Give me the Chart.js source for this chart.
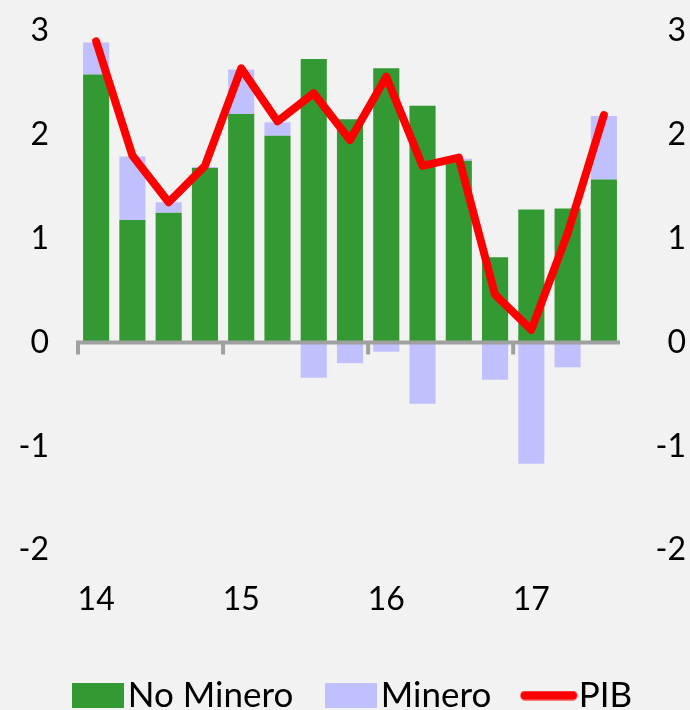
<!DOCTYPE html>
<html>
<head>
<meta charset="utf-8">
<title>PIB: No Minero / Minero</title>
<script src="https://cdn.jsdelivr.net/npm/chart.js@4.4.1/dist/chart.umd.min.js"></script>
<style>
  html, body { margin: 0; padding: 0; background: #f2f2f2; }
  #wrap { width: 690px; height: 710px; }
</style>
</head>
<body>
<div id="wrap"><canvas id="chart" width="690" height="710"></canvas></div>
<script>
// ── Data ─────────────────────────────────────────────────────────
const quarters = ['14-I', '14-II', '14-III', '14-IV',
                  '15-I', '15-II', '15-III', '15-IV',
                  '16-I', '16-II', '16-III', '16-IV',
                  '17-I', '17-II', '17-III'];
const yearTicks = ['14', '15', '16', '17'];

const noMinero = [2.58, 1.18, 1.25, 1.68, 2.20, 1.99, 2.73, 2.15, 2.64, 2.28, 1.75, 0.82, 1.28, 1.29, 1.57];
const minero   = [0.31, 0.61, 0.10, 0.01, 0.43, 0.13, -0.34, -0.20, -0.09, -0.59, 0.02, -0.36, -1.17, -0.24, 0.61];
const pib      = [2.90, 1.80, 1.35, 1.70, 2.64, 2.13, 2.40, 1.95, 2.56, 1.70, 1.78, 0.46, 0.12, 1.05, 2.19];

const yMin = -2;
const yMax = 3;

// ── Styles ───────────────────────────────────────────────────────
const GREEN = '#339933';
const LILAC = '#c0c0ff';
const RED   = '#ff0000';
const AXIS  = '#a0a0a0';
const FONT  = 'Lato, "Open Sans", sans-serif';

// legend swatches drawn as small canvases so the gap to the text stays tight
function swatchRect(color) {
    const c = document.createElement('canvas');
    c.width = 52; c.height = 25;
    const g = c.getContext('2d');
    g.fillStyle = color;
    g.fillRect(0, 0, 52, 25);
    return c;
}
function swatchLine(color) {
    const c = document.createElement('canvas');
    c.width = 58; c.height = 10;
    const g = c.getContext('2d');
    g.strokeStyle = color;
    g.lineWidth = 9;
    g.lineCap = 'round';
    g.beginPath(); g.moveTo(5, 5); g.lineTo(53, 5); g.stroke();
    return c;
}
const swatches = [swatchRect(GREEN), swatchRect(LILAC), swatchLine(RED)];

// ── Plugins ──────────────────────────────────────────────────────
const background = {
    id: 'background',
    beforeDraw(chart) {
        const ctx = chart.ctx;
        ctx.save();
        ctx.fillStyle = '#f2f2f2';
        ctx.fillRect(0, 0, chart.width, chart.height);
        ctx.restore();
    }
};

// nudge the legend row a bit to the right, as in the original
const legendShift = {
    id: 'legendShift',
    afterLayout(chart) {
        chart.legend.left += 15.75;
        chart.legend.right += 15.75;
    }
};

// category axis drawn across y = 0, with tick marks at each year start
const zeroAxis = {
    id: 'zeroAxis',
    afterDatasetsDraw(chart) {
        const { ctx, chartArea, scales } = chart;
        const y0 = scales.y.getPixelForValue(0);
        const half = (scales.x.getPixelForValue(1) - scales.x.getPixelForValue(0)) / 2;
        ctx.save();
        ctx.strokeStyle = AXIS;
        ctx.lineWidth = 4;
        ctx.beginPath();
        ctx.moveTo(chartArea.left - 2, y0);
        ctx.lineTo(chartArea.right - 2, y0);
        ctx.stroke();
        ctx.beginPath();
        quarters.forEach((q, i) => {
            if (i % 4 !== 0) return;
            const x = scales.x.getPixelForValue(i) - half;
            ctx.moveTo(x, y0);
            ctx.lineTo(x, y0 + 12);
        });
        ctx.stroke();
        ctx.restore();
    }
};

// fixed width for the value axes; tick padding should not push the plot down
function fitValueAxis(width) {
    return s => {
        s.width = width;
        s.paddingTop = 0;
        s.paddingBottom = 0;
    };
}

// ── Chart ────────────────────────────────────────────────────────
const ctx = document.getElementById('chart').getContext('2d');

new Chart(ctx, {
    type: 'bar',
    data: {
        labels: quarters,
        datasets: [
            {
                label: 'No Minero',
                data: noMinero,
                backgroundColor: GREEN,
                stack: 'pib',
                order: 2
            },
            {
                label: 'Minero',
                data: minero,
                backgroundColor: LILAC,
                stack: 'pib',
                order: 2
            },
            {
                type: 'line',
                label: 'PIB',
                data: pib,
                borderColor: RED,
                backgroundColor: RED,
                borderWidth: 8,
                pointRadius: 0,
                tension: 0,
                borderJoinStyle: 'round',
                borderCapStyle: 'round',
                stack: 'line',
                order: 0
            }
        ]
    },
    options: {
        responsive: false,
        animation: false,
        devicePixelRatio: 1,
        barPercentage: 0.72,
        categoryPercentage: 1,
        layout: { padding: { top: 31, left: 0, right: 4, bottom: -13 } },
        plugins: {
            tooltip: { enabled: false },
            legend: {
                position: 'bottom',
                labels: {
                    usePointStyle: true,
                    pointStyleWidth: 25,
                    boxHeight: 35,
                    padding: 45,
                    color: '#000',
                    font: { family: FONT, size: 35 },
                    generateLabels: chart => chart.data.datasets.map((ds, i) => ({
                        text: ds.label,
                        datasetIndex: i,
                        pointStyle: swatches[i],
                        fillStyle: ds.backgroundColor,
                        strokeStyle: ds.backgroundColor,
                        lineWidth: 0,
                        hidden: false,
                        fontColor: '#000'
                    }))
                }
            }
        },
        scales: {
            x: {
                stacked: true,
                grid: { display: false, drawTicks: false },
                border: { display: false },
                afterFit: s => { s.height = 83; },
                ticks: {
                    autoSkip: false,
                    maxRotation: 0,
                    padding: 30,
                    color: '#000',
                    font: { family: FONT, size: 32 },
                    callback: (v, i) => (i % 4 === 0 ? yearTicks[i / 4] : '')
                }
            },
            y: {
                stacked: true,
                min: yMin,
                max: yMax,
                grid: { display: false, drawTicks: false },
                border: { display: false },
                afterFit: fitValueAxis(78),
                ticks: {
                    stepSize: 1,
                    padding: 29,
                    color: '#000',
                    font: { family: FONT, size: 32 }
                }
            },
            y2: {
                position: 'right',
                min: yMin,
                max: yMax,
                grid: { display: false, drawTicks: false },
                border: { display: false },
                afterFit: fitValueAxis(64),
                ticks: {
                    stepSize: 1,
                    padding: 26,
                    crossAlign: 'far',
                    color: '#000',
                    font: { family: FONT, size: 32 }
                }
            }
        }
    },
    plugins: [background, legendShift, zeroAxis]
});
</script>
</body>
</html>
